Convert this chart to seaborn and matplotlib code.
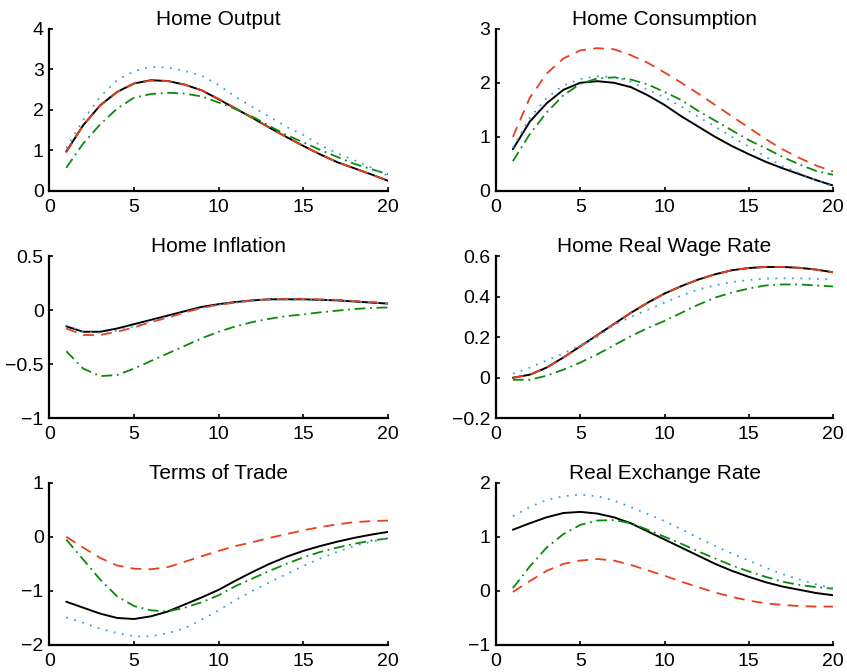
import numpy as np
import pandas as pd
import matplotlib
matplotlib.use('Agg')
import matplotlib.pyplot as plt
import seaborn as sns

periods = list(range(1, 21))

output_solid = [0.97, 1.62, 2.11, 2.44, 2.65, 2.73, 2.71, 2.62, 2.48, 2.26, 2.03, 1.80, 1.56, 1.33, 1.11, 0.90, 0.71, 0.56, 0.41, 0.25]
output_dashed = [0.95, 1.62, 2.10, 2.44, 2.65, 2.72, 2.71, 2.62, 2.48, 2.27, 2.04, 1.80, 1.56, 1.33, 1.11, 0.90, 0.71, 0.55, 0.41, 0.25]
output_dashdot = [0.57, 1.17, 1.64, 2.03, 2.30, 2.39, 2.42, 2.40, 2.33, 2.18, 2.02, 1.83, 1.60, 1.38, 1.20, 1.01, 0.84, 0.67, 0.54, 0.41]
output_dotted = [1.05, 1.75, 2.32, 2.73, 2.95, 3.06, 3.04, 2.96, 2.84, 2.61, 2.32, 2.07, 1.83, 1.58, 1.38, 1.13, 0.93, 0.76, 0.58, 0.37]

cons_solid = [0.77, 1.28, 1.62, 1.87, 2.00, 2.03, 2.00, 1.92, 1.77, 1.59, 1.38, 1.19, 1.00, 0.83, 0.68, 0.54, 0.42, 0.31, 0.20, 0.10]
cons_dashed = [1.00, 1.72, 2.17, 2.45, 2.60, 2.64, 2.62, 2.51, 2.37, 2.19, 2.00, 1.80, 1.59, 1.38, 1.17, 0.96, 0.77, 0.61, 0.47, 0.36]
cons_dashdot = [0.55, 1.05, 1.45, 1.77, 1.98, 2.08, 2.10, 2.06, 1.97, 1.83, 1.68, 1.48, 1.30, 1.12, 0.94, 0.79, 0.63, 0.49, 0.37, 0.30]
cons_dotted = [0.80, 1.35, 1.72, 1.95, 2.07, 2.12, 2.11, 2.02, 1.87, 1.73, 1.56, 1.37, 1.19, 1.00, 0.82, 0.63, 0.46, 0.33, 0.20, 0.08]

infl_solid = [-0.15, -0.20, -0.20, -0.17, -0.13, -0.09, -0.05, -0.01, 0.03, 0.055, 0.075, 0.09, 0.10, 0.10, 0.10, 0.095, 0.09, 0.08, 0.07, 0.06]
infl_dashed = [-0.17, -0.23, -0.23, -0.20, -0.16, -0.11, -0.07, -0.02, 0.02, 0.05, 0.07, 0.09, 0.10, 0.105, 0.105, 0.10, 0.095, 0.085, 0.075, 0.065]
infl_dashdot = [-0.38, -0.54, -0.61, -0.60, -0.54, -0.47, -0.40, -0.33, -0.26, -0.20, -0.15, -0.11, -0.08, -0.055, -0.04, -0.02, -0.005, 0.01, 0.02, 0.025]
infl_dotted = [-0.14, -0.20, -0.21, -0.19, -0.15, -0.10, -0.06, -0.02, 0.02, 0.05, 0.07, 0.085, 0.095, 0.10, 0.10, 0.095, 0.09, 0.08, 0.07, 0.06]

wage_solid = [0.0, 0.015, 0.05, 0.10, 0.155, 0.21, 0.265, 0.32, 0.37, 0.415, 0.452, 0.484, 0.51, 0.53, 0.541, 0.546, 0.546, 0.542, 0.533, 0.52]
wage_dashed = [0.0, 0.015, 0.05, 0.10, 0.155, 0.21, 0.265, 0.32, 0.37, 0.415, 0.452, 0.484, 0.51, 0.53, 0.541, 0.546, 0.546, 0.542, 0.533, 0.52]
wage_dashdot = [-0.01, -0.01, 0.01, 0.04, 0.075, 0.115, 0.16, 0.205, 0.245, 0.28, 0.32, 0.36, 0.395, 0.42, 0.44, 0.455, 0.46, 0.46, 0.455, 0.45]
wage_dotted = [0.02, 0.05, 0.085, 0.12, 0.16, 0.20, 0.26, 0.30, 0.335, 0.37, 0.405, 0.435, 0.455, 0.472, 0.482, 0.489, 0.49, 0.49, 0.487, 0.484]

tot_solid = [-1.20, -1.31, -1.42, -1.50, -1.52, -1.47, -1.38, -1.25, -1.12, -0.98, -0.81, -0.65, -0.50, -0.37, -0.26, -0.17, -0.09, -0.02, 0.04, 0.09]
tot_dashed = [0.0, -0.20, -0.39, -0.53, -0.59, -0.60, -0.56, -0.46, -0.36, -0.26, -0.17, -0.10, -0.02, 0.05, 0.12, 0.18, 0.23, 0.27, 0.29, 0.30]
tot_dashdot = [-0.05, -0.42, -0.79, -1.10, -1.28, -1.36, -1.38, -1.31, -1.21, -1.08, -0.91, -0.77, -0.63, -0.50, -0.38, -0.28, -0.20, -0.13, -0.07, -0.03]
tot_dotted = [-1.49, -1.59, -1.70, -1.78, -1.84, -1.84, -1.78, -1.69, -1.53, -1.36, -1.17, -1.00, -0.84, -0.69, -0.54, -0.40, -0.28, -0.17, -0.09, -0.03]

rer_solid = [1.13, 1.25, 1.36, 1.44, 1.46, 1.43, 1.36, 1.25, 1.10, 0.95, 0.80, 0.65, 0.50, 0.37, 0.26, 0.16, 0.08, 0.02, -0.04, -0.08]
rer_dashed = [-0.02, 0.18, 0.37, 0.50, 0.56, 0.59, 0.56, 0.48, 0.38, 0.28, 0.17, 0.07, -0.03, -0.11, -0.18, -0.23, -0.26, -0.28, -0.29, -0.29]
rer_dashdot = [0.05, 0.45, 0.80, 1.05, 1.22, 1.30, 1.31, 1.25, 1.13, 1.00, 0.87, 0.73, 0.60, 0.47, 0.36, 0.26, 0.17, 0.11, 0.07, 0.04]
rer_dotted = [1.38, 1.55, 1.68, 1.75, 1.78, 1.75, 1.67, 1.55, 1.42, 1.29, 1.14, 0.98, 0.83, 0.69, 0.56, 0.43, 0.31, 0.21, 0.12, 0.05]

titles = ['Home Output', 'Home Consumption', 'Home Inflation',
          'Home Real Wage Rate', 'Terms of Trade', 'Real Exchange Rate']
panel_series = [
    (output_solid, output_dashed, output_dashdot, output_dotted),
    (cons_solid, cons_dashed, cons_dashdot, cons_dotted),
    (infl_solid, infl_dashed, infl_dashdot, infl_dotted),
    (wage_solid, wage_dashed, wage_dashdot, wage_dotted),
    (tot_solid, tot_dashed, tot_dashdot, tot_dotted),
    (rer_solid, rer_dashed, rer_dashdot, rer_dotted),
]
y_ticks = [
    [0, 1, 2, 3, 4],
    [0, 1, 2, 3],
    [-1, -0.5, 0, 0.5],
    [-0.2, 0, 0.2, 0.4, 0.6],
    [-2, -1, 0, 1],
    [-1, 0, 1, 2],
]
x_ticks = [0, 5, 10, 15, 20]

# solid first, then dashed, dash-dot, dotted on top (MATLAB plot order)
styles = [
    ('black', '-'),
    ('#e8401c', (0, (6, 4))),
    ('#0a8a0a', (0, (6, 2.6, 1, 2.6))),
    ('#3aa0dc', (0, (1, 3.6))),
]

sns.set_style('ticks')
plt.rcParams['font.family'] = ['Liberation Sans', 'DejaVu Sans']

fig = plt.figure(figsize=(8.47, 6.72), dpi=100)
lefts = [0.0582, 0.5856]
widths = [0.400, 0.398]
bottoms = [0.7158, 0.3775, 0.0402]
h = 0.2415

for i, (title, series) in enumerate(zip(titles, panel_series)):
    r, c = divmod(i, 2)
    ax = fig.add_axes([lefts[c], bottoms[r], widths[c], h])
    for k in range(4):
        color, ls = styles[k]
        df = pd.DataFrame({'t': periods, 'v': series[k]})
        sns.lineplot(data=df, x='t', y='v', ax=ax, color=color, linestyle=ls,
                     linewidth=1.3 if k else 1.4)
    ax.set_xlim(0, 20)
    ax.set_ylim(y_ticks[i][0], y_ticks[i][-1])
    ax.set_xticks(x_ticks)
    ax.set_yticks(y_ticks[i])
    ax.set_yticklabels([f'{v:g}'.replace('-', '\u2212') for v in y_ticks[i]])
    ax.set_xlabel('')
    ax.set_ylabel('')
    ax.set_title(title, fontsize=15, pad=3, color='black')
    sns.despine(ax=ax)
    for s in ['left', 'bottom']:
        ax.spines[s].set_linewidth(1.6)
        ax.spines[s].set_color('black')
    ax.tick_params(direction='in', length=3, width=1.2, labelsize=14,
                   colors='black')
    ax.tick_params(axis='x', pad=5.5)
    ax.tick_params(axis='y', pad=4)

fig.savefig('out.png', dpi=100)
